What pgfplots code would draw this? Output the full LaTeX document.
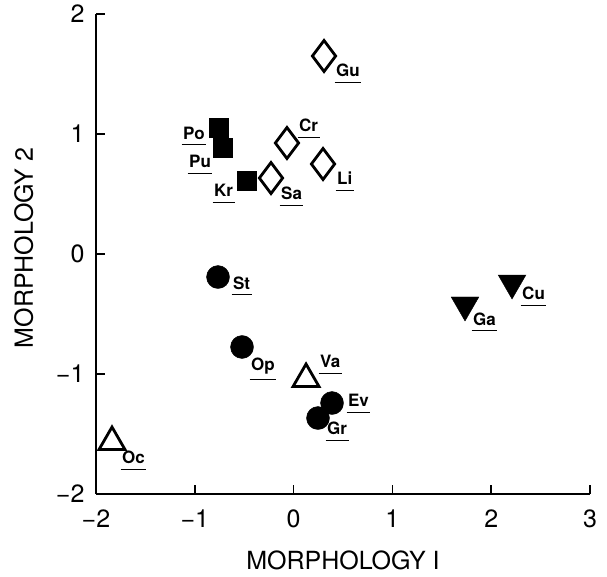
\documentclass[border=0pt]{standalone}
\usepackage{fontspec}
\setmainfont{TeX Gyre Heros}
\usepackage{pgfplots}
\pgfplotsset{compat=1.18}
\newcommand\ul[1]{\vtop{\hbox{\kern1.5pt#1\kern1.5pt}\kern5pt\hrule height 1.2pt}}
\tikzset{lbl/.style={anchor=base west, inner sep=0pt, font=\fontsize{17}{20}\selectfont\bfseries}}
\begin{document}
\begin{tikzpicture}
\begin{axis}[
  scale only axis, width=494pt, height=480pt,
  xmin=-2, xmax=3, ymin=-2, ymax=2,
  axis x line*=bottom, axis y line*=left,
  axis line style={line width=2pt},
  tick align=inside, major tick length=9pt,
  tick style={line width=1.6pt, black},
  xtick={-2,-1,0,1,2,3}, xticklabels={−2,−1,0,1,2,3},
  ytick={-2,-1,0,1,2}, yticklabels={−2,−1,0,1,2},
  ticklabel style={font=\fontsize{25}{30}\selectfont},
  xticklabel style={yshift=-12pt},
  yticklabel style={xshift=-8pt},
  xlabel={MORPHOLOGY I}, ylabel={MORPHOLOGY 2},
  label style={font=\fontsize{25}{30}\selectfont},
  xlabel style={at={([yshift=-76pt]axis description cs:0.5,0)}, anchor=base},
  ylabel style={at={([xshift=-63pt]axis description cs:0,0.5125)}, anchor=base},
  clip=false,
]
% filled squares
\addplot[only marks, mark=square*, mark size=9.5pt, mark options={fill=black, draw=black, line width=0.4pt}]
coordinates {(-0.755,1.05) (-0.715,0.883) (-0.472,0.608)};
% open diamonds
\addplot[only marks, mark=diamond, mark size=15.5pt, mark options={fill=white, draw=black, line width=2.8pt}]
coordinates {(0.308,1.65) (-0.067,0.925) (-0.229,0.633) (0.298,0.75)};
% filled circles
\addplot[only marks, mark=*, mark size=11.5pt, mark options={fill=black, draw=black}]
coordinates {(-0.765,-0.192) (-0.522,-0.775) (0.389,-1.242) (0.247,-1.367)};
% open triangles
\addplot[only marks, mark=triangle, mark size=15pt, mark options={fill=white, draw=black, line width=2.8pt}]
coordinates {(0.126,-1.042) (-1.838,-1.567)};
% filled down triangles
\addplot[only marks, mark=triangle*, mark size=16pt, mark options={rotate=180, fill=black, draw=black}]
coordinates {(1.735,-0.425) (2.211,-0.242)};
% labels
\node[lbl] at (axis cs:0.414,1.475) {\ul{Gu}};
\node[lbl] at (axis cs:-1.135,0.958) {\ul{Po}};
\node[lbl] at (axis cs:-1.074,0.717) {\ul{Pu}};
\node[lbl] at (axis cs:-0.821,0.475) {\ul{Kr}};
\node[lbl] at (axis cs:0.039,1.017) {\ul{Cr}};
\node[lbl] at (axis cs:-0.143,0.45) {\ul{Sa}};
\node[lbl] at (axis cs:0.424,0.575) {\ul{Li}};
\node[lbl] at (axis cs:-0.629,-0.292) {\ul{St}};
\node[lbl] at (axis cs:-0.446,-0.967) {\ul{Op}};
\node[lbl] at (axis cs:0.252,-0.95) {\ul{Va}};
\node[lbl] at (axis cs:0.535,-1.275) {\ul{Ev}};
\node[lbl] at (axis cs:0.323,-1.508) {\ul{Gr}};
\node[lbl] at (axis cs:-1.752,-1.75) {\ul{Oc}};
\node[lbl] at (axis cs:1.80,-0.592) {\ul{Ga}};
\node[lbl] at (axis cs:2.297,-0.383) {\ul{Cu}};
\end{axis}
\pgfresetboundingbox
\path ([xshift=-96pt,yshift=-83pt]current axis.south west) rectangle ([xshift=17pt,yshift=14pt]current axis.north east);
\end{tikzpicture}
\end{document}
